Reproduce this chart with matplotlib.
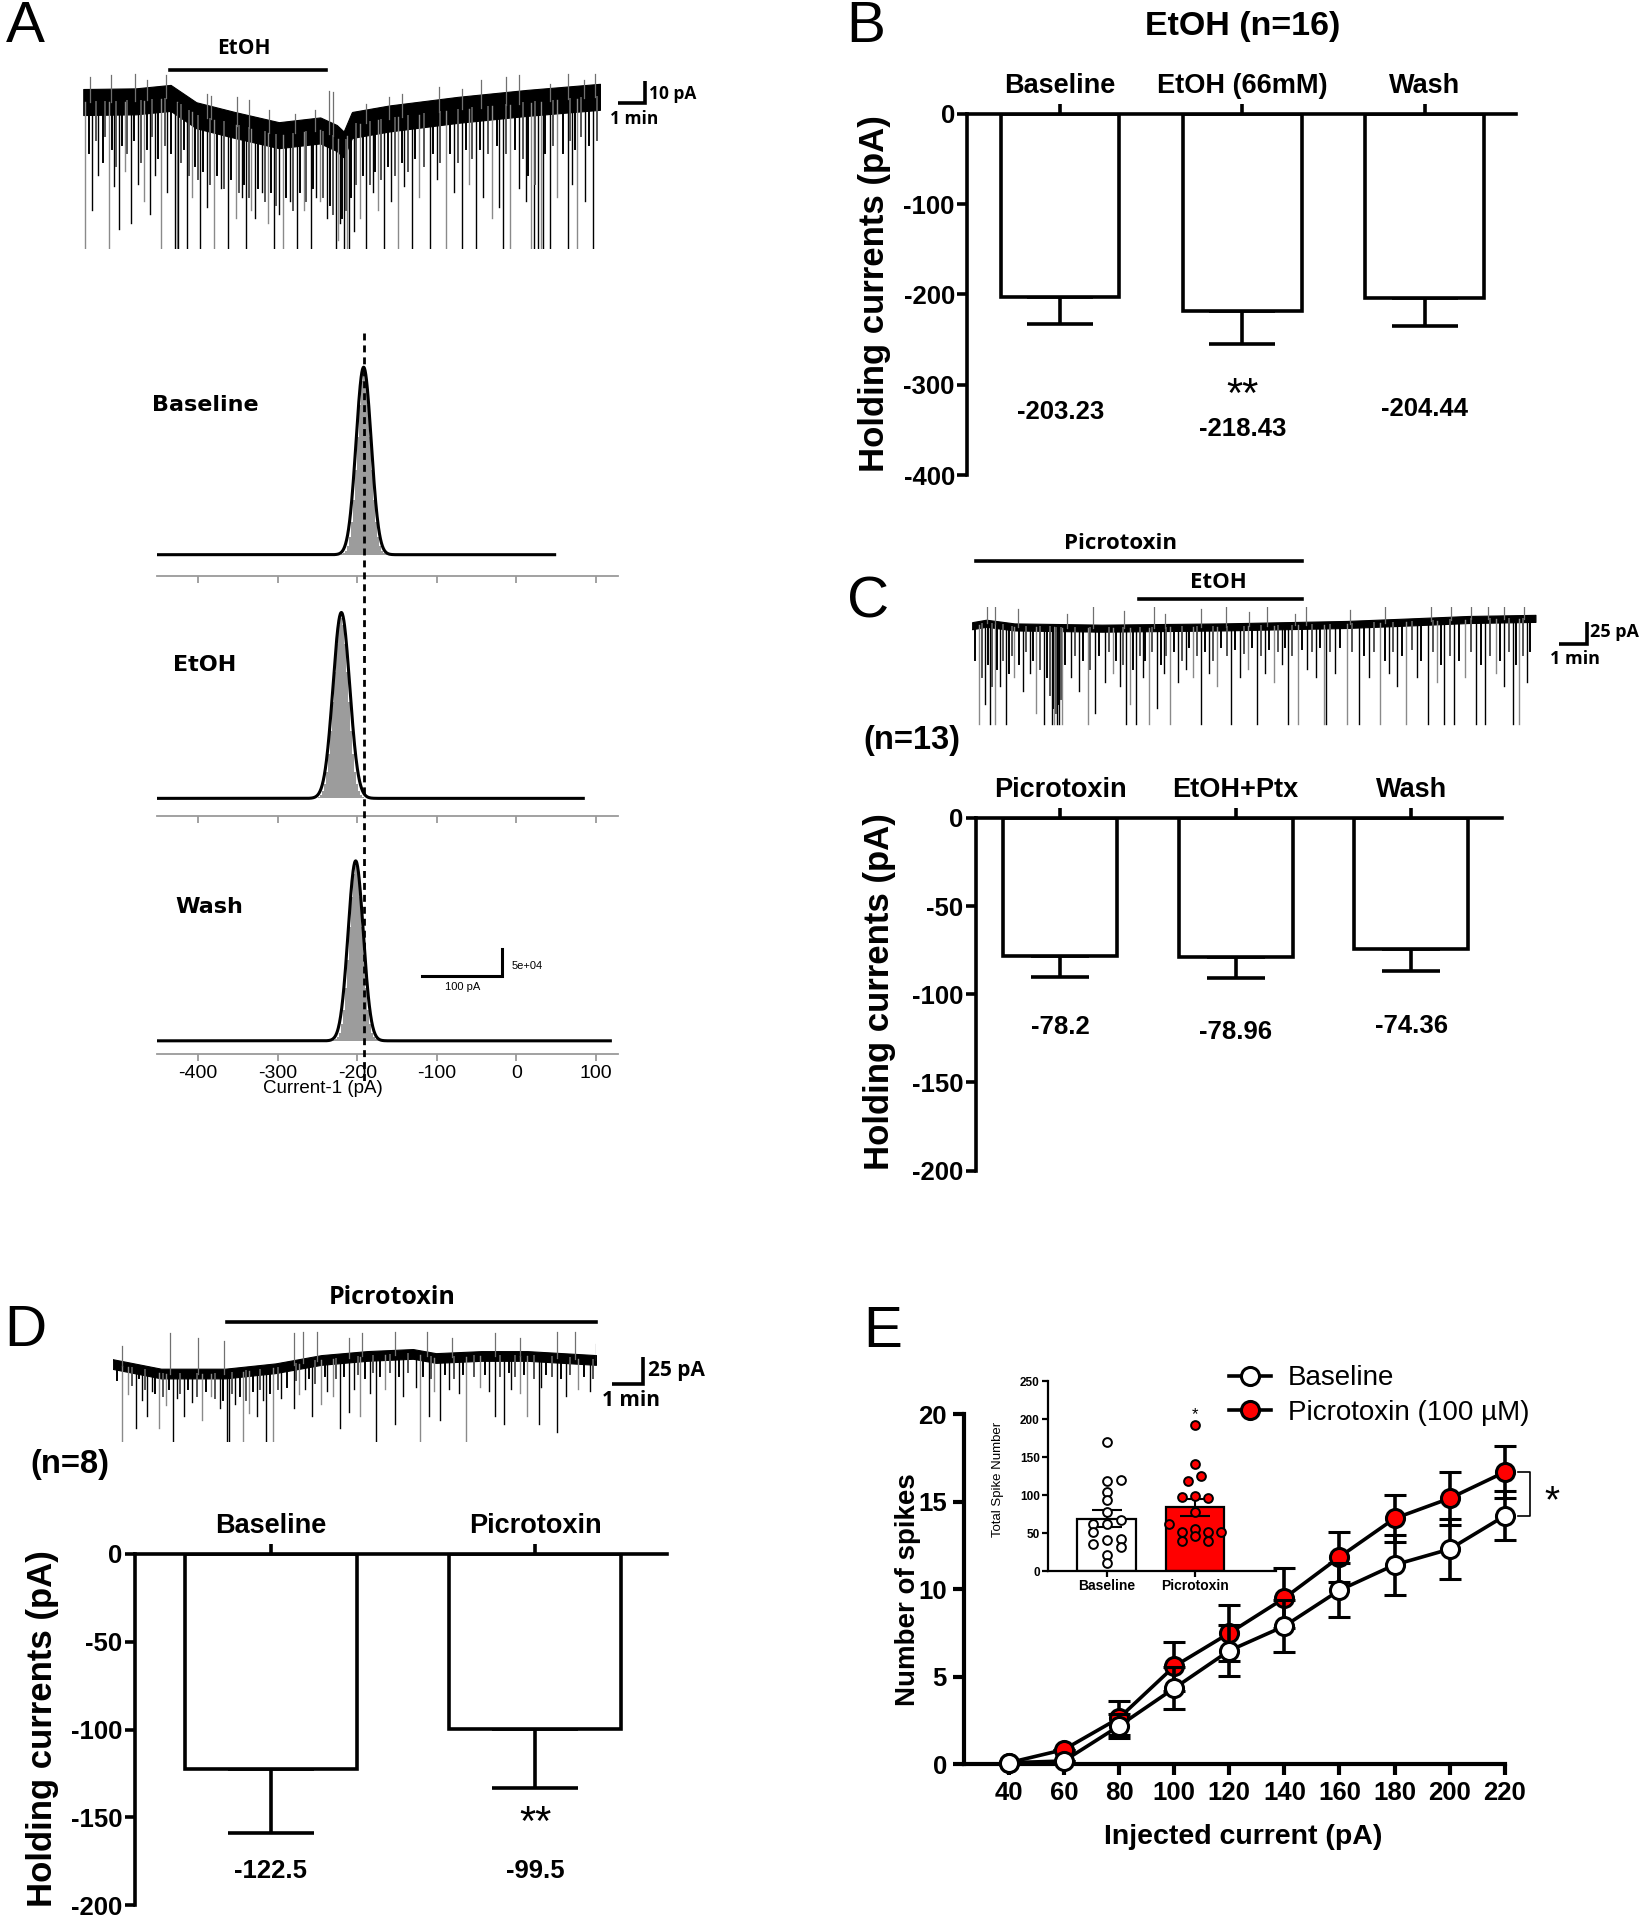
import numpy as np
import matplotlib
matplotlib.use('Agg')
import matplotlib.pyplot as plt
from matplotlib.lines import Line2D
from matplotlib.transforms import blended_transform_factory

plt.rcParams['font.family'] = ['Liberation Sans', 'DejaVu Sans']
plt.rcParams['axes.unicode_minus'] = False

# ---------------- data ----------------
# A: example trace (time in min, current in pA)
a_base_t = [0, 1.9, 3.17, 4.1, 5.5, 7.1, 8.6, 9.2, 9.45, 9.75, 11.1, 13.6, 16.1, 18.75]
a_base_i = [-6.4, -6.1, -4.5, -12.5, -17, -21.7, -19.5, -23, -26, -17, -14, -10, -6.8, -4]
a_spikes = [(0.08, -74), (0.33, -56), (0.55, -40), (0.92, -74), (1.1, -45), (1.28, -65), (1.5, -38),
            (1.75, -62), (2.0, -44), (2.2, -52), (2.42, -58), (2.6, -40), (2.83, -74), (3.05, -48),
            (3.33, -74), (3.4, -74), (3.45, -74), (3.75, -74), (3.95, -50), (4.25, -74), (4.5, -55),
            (4.75, -74), (5.0, -46), (5.25, -74), (5.55, -60), (5.75, -50), (5.92, -74), (6.1, -56),
            (6.25, -60), (6.5, -48), (6.7, -62), (6.92, -74), (7.1, -58), (7.25, -74), (7.5, -52),
            (7.75, -74), (8.0, -56), (8.25, -74), (8.45, -50), (8.58, -52), (8.85, -60), (9.17, -74),
            (9.25, -70), (9.33, -62), (9.45, -74), (9.58, -74), (9.65, -74), (9.83, -66), (10.05, -60),
            (10.25, -74), (10.5, -48), (10.7, -56), (10.92, -74), (11.15, -52), (11.42, -74), (11.65, -45),
            (11.92, -74), (12.2, -50), (12.58, -74), (12.85, -42), (13.17, -74), (13.45, -48), (13.75, -74),
            (14.0, -44), (14.25, -74), (14.5, -50), (14.83, -60), (15.1, -55), (15.25, -74), (15.5, -74),
            (15.8, -46), (16.05, -52), (16.25, -74), (16.35, -74), (16.5, -74), (16.6, -74), (16.67, -74),
            (16.92, -74), (17.2, -50), (17.58, -74), (17.75, -44), (17.92, -74), (18.2, -52), (18.5, -74)]
a_small = [(0.2, -30), (0.45, -24), (0.7, -34), (0.8, -22), (1.05, -28), (1.2, -36), (1.4, -26), (1.6, -30),
           (1.85, -24), (2.1, -34), (2.3, -28), (2.5, -22), (2.7, -32), (2.95, -26), (3.2, -30), (3.55, -34),
           (3.65, -28), (3.85, -40), (4.05, -36), (4.15, -42), (4.35, -38), (4.6, -44), (4.85, -40),
           (5.1, -46), (5.35, -42), (5.65, -48), (5.85, -44), (6.0, -50), (6.35, -46), (6.6, -52), (6.8, -48),
           (7.0, -54), (7.35, -50), (7.6, -56), (7.85, -48), (8.1, -52), (8.35, -46), (8.7, -50), (8.95, -54),
           (9.05, -58), (9.4, -60), (9.52, -56), (9.7, -50), (9.9, -44), (10.15, -40), (10.4, -44),
           (10.6, -38), (10.8, -42), (11.05, -36), (11.3, -40), (11.55, -34), (11.8, -38), (12.05, -32),
           (12.35, -36), (12.7, -30), (12.95, -34), (13.3, -30), (13.6, -34), (13.9, -28), (14.1, -32),
           (14.4, -28), (14.7, -30), (15.0, -26), (15.35, -30), (15.65, -28), (15.95, -32), (16.15, -40),
           (16.4, -44), (16.75, -30), (17.05, -26), (17.4, -30), (17.65, -24), (17.85, -28), (18.05, -22),
           (18.35, -26), (18.65, -24)]
a_up = [(0.25, 5.1), (1.0, 5.9), (1.88, 6.6), (2.33, 3.6), (3.0, 5.9), (4.5, -2.6), (4.62, -3.4),
        (5.58, -4.1), (6.0, -5.6), (6.75, -10.3), (7.67, -11.8), (8.42, -10.3), (8.92, -1.1), (9.08, -1.8),
        (10.25, -7.2), (11.08, -4.1), (11.58, -2.6), (12.92, 0.5), (13.75, -0.3), (14.42, 3.6),
        (15.33, 5.1), (15.83, 5.9), (16.92, 2.0), (17.58, 6.6), (18.17, 3.6), (18.58, 6.6)]

# A: gaussian fits of the all-points histograms
hist_names = ['Baseline', 'EtOH', 'Wash']
hist_center = [-192, -220, -202]
hist_sd = [9.5, 10.5, 9.5]
hist_peak = [3.48e5, 3.45e5, 3.34e5]
hist_xmax = [48, 84, 118]
hist_ref = -192
hist_ticks = [-400, -300, -200, -100, 0, 100]

# B
b_labels = ['Baseline', 'EtOH (66mM)', 'Wash']
b_mean = [-203.23, -218.43, -204.44]
b_sem = [30, 36, 31]

# C trace
c_base_t = [0, 0.5, 1.5, 4.6, 8.9, 13.3, 15.5, 17.6, 20.0]
c_base_i = [-1.4, 1.4, -2.8, -4.2, -2.8, 0, 2.8, 5.6, 6.9]
c_spikes = [(0.24, -113), (0.46, -90), (0.64, -113), (0.82, -113), (1.0, -70), (1.19, -113), (1.5, -60),
            (1.8, -75), (2.05, -55), (2.28, -100), (2.55, -113), (2.83, -113), (2.92, -113), (3.01, -113),
            (3.1, -113), (3.19, -113), (3.5, -60), (3.8, -75), (4.1, -113), (4.37, -100), (4.7, -65),
            (5.0, -55), (5.25, -70), (5.47, -113), (5.6, -90), (5.83, -113), (6.05, -60), (6.29, -113),
            (6.56, -95), (6.8, -55), (7.02, -113), (7.3, -65), (7.6, -50), (7.85, -60), (8.11, -113),
            (8.4, -55), (8.7, -70), (9.2, -113), (9.5, -60), (9.8, -50), (10.11, -113), (10.4, -55),
            (10.7, -65), (11.0, -45), (11.2, -113), (11.57, -113), (11.9, -50), (12.2, -60), (12.48, -113),
            (12.57, -113), (12.9, -55), (13.3, -113), (13.75, -113), (14.1, -60), (14.48, -113), (14.8, -55),
            (15.1, -70), (15.4, -113), (15.8, -60), (16.2, -113), (16.5, -65), (16.76, -113), (17.1, -113),
            (17.5, -60), (17.9, -113), (18.2, -113), (18.6, -55), (18.9, -70), (19.2, -113), (19.4, -113),
            (19.7, -65)]
c_small = [(0.1, -40), (0.35, -60), (0.55, -45), (0.72, -70), (0.9, -50), (1.1, -40), (1.3, -55), (1.4, -35),
           (1.65, -45), (1.9, -30), (2.15, -40), (2.4, -50), (2.65, -60), (2.75, -80), (2.88, -95),
           (2.97, -100), (3.05, -90), (3.15, -85), (3.3, -45), (3.65, -35), (3.95, -40), (4.2, -50),
           (4.5, -35), (4.85, -30), (5.1, -40), (5.35, -45), (5.7, -50), (5.95, -35), (6.15, -40), (6.4, -30),
           (6.7, -45), (6.9, -35), (7.15, -30), (7.45, -40), (7.7, -25), (8.0, -35), (8.25, -30), (8.55, -40),
           (8.85, -25), (9.05, -35), (9.35, -28), (9.65, -32), (9.95, -25), (10.25, -35), (10.55, -28),
           (10.85, -30), (11.1, -25), (11.35, -35), (11.7, -28), (12.05, -30), (12.35, -25), (12.7, -30),
           (13.05, -25), (13.5, -30), (13.9, -35), (14.25, -30), (14.65, -40), (14.95, -30), (15.25, -35),
           (15.6, -28), (15.95, -40), (16.35, -30), (16.65, -45), (16.95, -35), (17.3, -40), (17.7, -30),
           (18.05, -45), (18.4, -35), (18.75, -40), (19.05, -30), (19.3, -45), (19.55, -35), (19.8, -30)]
c_up = [(0.51, 28), (0.82, 20), (1.64, 18), (3.37, 12), (4.28, 28), (5.38, 15), (6.47, 22), (6.83, 12),
        (8.11, 18), (9.0, 28), (9.84, 14), (10.48, 20), (11.48, 12), (11.84, 26), (13.4, 16), (14.66, 22),
        (16.3, 24), (17.0, 26), (17.7, 22), (18.3, 24), (18.9, 20), (19.6, 28)]
c_labels = ['Picrotoxin', 'EtOH+Ptx', 'Wash']
c_mean = [-78.2, -78.96, -74.36]
c_sem = [12, 12, 12.5]

# D trace
d_base_t = [0, 1.58, 3.68, 5.32, 6.82, 8.31, 9.81, 10.56, 12.05, 13.55, 15.79]
d_base_i = [-6.8, -15.6, -15.6, -10.7, -3, 0.7, 2.6, -1.2, 0.7, 0.7, -3]
d_spikes = [(0.31, -78.5), (0.76, -66.3), (1.13, -54.9), (1.5, -66.3), (1.96, -78.5), (2.33, -54.9),
            (2.93, -58.7), (3.72, -78.5), (3.8, -78.5), (4.27, -78.5), (4.72, -54.9), (5.02, -78.5),
            (5.25, -78.5), (5.92, -47.2), (6.52, -54.9), (6.82, -43.4), (7.42, -66.3), (7.72, -51),
            (8.09, -54.9), (8.61, -78.5), (9.21, -62.5), (10.03, -78.5), (10.33, -54.9), (10.71, -58.7),
            (11.53, -78.5), (12.5, -54.9), (12.8, -62.5), (13.55, -54.9), (13.93, -62.5), (14.52, -70.1),
            (0.5, -35), (0.95, -40), (1.3, -32), (1.75, -45), (2.1, -38), (2.6, -42), (3.2, -36), (3.5, -48),
            (4.0, -44), (4.45, -52), (4.9, -40), (5.5, -38), (6.1, -35), (6.3, -30), (7.0, -32), (7.2, -36),
            (7.9, -30), (8.4, -34), (8.9, -30), (9.5, -36), (9.9, -28), (10.5, -32), (11.0, -30), (11.3, -34),
            (12.0, -28), (12.3, -32), (13.0, -30), (13.3, -34), (14.0, -28), (14.8, -36), (15.2, -30),
            (15.6, -32)]
d_small = [(0.15, -22), (0.62, -26), (0.85, -20), (1.05, -30), (1.4, -34), (1.65, -36), (1.85, -30),
           (2.2, -34), (2.45, -30), (2.75, -36), (3.05, -32), (3.35, -38), (3.6, -40), (3.9, -34), (4.15, -36),
           (4.35, -40), (4.6, -32), (4.8, -30), (5.15, -34), (5.4, -30), (5.7, -28), (6.0, -22), (6.42, -20),
           (6.6, -24), (6.95, -18), (7.3, -20), (7.55, -18), (8.0, -16), (8.25, -20), (8.5, -14), (8.75, -18),
           (9.05, -14), (9.35, -18), (9.65, -14), (10.15, -18), (10.4, -20), (10.85, -16), (11.15, -20),
           (11.45, -16), (11.8, -18), (12.15, -16), (12.65, -18), (12.95, -14), (13.15, -18), (13.45, -16),
           (13.75, -20), (14.15, -16), (14.35, -18), (14.65, -20), (14.95, -16), (15.4, -18), (15.7, -20)]
d_up = [(0.31, 10), (1.88, 21.6), (2.78, 17.7), (3.65, 15), (5.92, 21.6), (6.22, 23), (6.67, 23),
        (7.72, 17.7), (8.16, 21.6), (9.21, 23), (10.26, 23), (11.08, 17.7), (12.5, 21.6), (13.32, 17.7),
        (14.52, 23), (15.12, 23), (15.79, 12)]
d_labels = ['Baseline', 'Picrotoxin']
d_mean = [-122.5, -99.5]
d_sem = [36.5, 33.5]

# E
e_current = [40, 60, 80, 100, 120, 140, 160, 180, 200, 220]
e_base = [0.1, 0.2, 2.2, 4.35, 6.5, 7.9, 9.95, 11.4, 12.3, 14.2]
e_base_sem = [0, 0, 0.7, 1.2, 1.45, 1.5, 1.55, 1.7, 1.7, 1.4]
e_ptx = [0.1, 0.85, 2.65, 5.6, 7.5, 9.5, 11.85, 14.05, 15.2, 16.7]
e_ptx_sem = [0, 0, 0.95, 1.4, 1.6, 1.7, 1.45, 1.35, 1.5, 1.5]
inset_base = [170, 118, 120, 104, 94, 78, 62, 62, 67, 51, 41, 42, 35, 31, 21, 10]
inset_ptx = [192, 141, 119, 125, 97, 99, 96, 78, 62, 51, 55, 51, 52, 39, 46, 39]

# ---------------- layout helpers ----------------
W, H = 1346.0, 1568.0
fig = plt.figure(figsize=(16.48, 19.2), dpi=100)


def box(x0, y0, x1, y1):
    return [x0 / W, 1 - y1 / H, (x1 - x0) / W, (y1 - y0) / H]


def ftext(x, y, s, **kw):
    kw.setdefault('ha', 'center')
    kw.setdefault('va', 'center')
    fig.text(x / W, 1 - y / H, s, **kw)


LW = 2.6
BOLD = dict(fontweight='bold')
TRACE_FONT = ['Open Sans', 'Liberation Sans']


def trace(rect, xlim, ylim, bt, bi, half, spikes, small, up):
    ax = fig.add_axes(rect)
    ax.set_xlim(xlim)
    ax.set_ylim(ylim)
    ax.axis('off')
    t = np.linspace(bt[0], bt[-1], 800)
    c = np.interp(t, bt, bi)
    for k, (tt, ii) in enumerate(spikes):
        c0 = np.interp(tt, bt, bi)
        ax.plot([tt, tt], [c0, ii], color='#8a8a8a' if k % 3 == 0 else 'black', lw=1.0)
    for k, (tt, ii) in enumerate(small):
        c0 = np.interp(tt, bt, bi)
        ax.plot([tt, tt], [c0, ii], color='#555555' if k % 2 else 'black', lw=1.4)
    for tt, ii in up:
        c0 = np.interp(tt, bt, bi)
        ax.plot([tt, tt], [c0, ii], color='#707070', lw=0.9)
    ax.fill_between(t, c - half, c + half, color='black', lw=0.8)
    return ax


def scalebar(ax, t1, i0, dt, di):
    ax.plot([t1 - dt, t1, t1], [i0, i0, i0 + di], color='black', lw=LW, clip_on=False,
            solid_joinstyle='miter', solid_capstyle='butt')


# ---------------- panel letters ----------------
for s, x, y in [('A', 21, 22), ('B', 707, 22), ('C', 709, 492), ('D', 21, 1087), ('E', 721, 1088)]:
    ftext(x, y, s, fontsize=42)

# ---------------- A trace ----------------
ax = trace(box(68, 58, 490, 203), (0, 18.75), (-74, 7.9), a_base_t, a_base_i, 6, a_spikes, a_small, a_up)
ax.plot([3.16, 8.8], [8.5, 8.5], color='black', lw=LW, clip_on=False)
scalebar(ax, 20.4, -6.8, 1, 10)
ftext(199, 40, 'EtOH', fontsize=15, family=TRACE_FONT, **BOLD)
ftext(530, 77, '10 pA', fontsize=12.5, ha='left', family=TRACE_FONT, **BOLD)
ftext(518, 97, '1 min', fontsize=12.5, family=TRACE_FONT, **BOLD)

# ---------------- A histograms ----------------
sec_top = [270, 478, 676]
sec_axis = [470, 666, 861]
sec_base = [453, 652, 850]
kpx = 5e4 / 22
hist_axes = []
for k in range(3):
    hx = fig.add_axes(box(128, sec_top[k], 505, sec_axis[k]))
    hx.set_xlim(-452, 128)
    hx.set_ylim(-(sec_axis[k] - sec_base[k]) * kpx, (sec_base[k] - sec_top[k]) * kpx)
    x = np.linspace(-452, hist_xmax[k], 1200)
    xf = np.arange(hist_center[k] - 40, hist_center[k] + 40, 2.5)
    yf = hist_peak[k] * 0.97 * np.exp(-0.5 * ((xf - hist_center[k]) / (hist_sd[k] * 0.85)) ** 2)
    hx.bar(xf, yf, width=2.5, color='#9c9c9c', lw=0)
    y = hist_peak[k] * np.exp(-0.5 * ((x - hist_center[k]) / hist_sd[k]) ** 2)
    hx.plot(x, y, color='black', lw=2.2)
    for sp in ['top', 'right', 'left']:
        hx.spines[sp].set_visible(False)
    hx.spines['bottom'].set_color('#9a9a9a')
    hx.spines['bottom'].set_linewidth(1.3)
    hx.set_yticks([])
    hx.set_xticks(hist_ticks)
    hx.tick_params(axis='x', color='#9a9a9a', width=1.3, length=5, labelsize=14, pad=3)
    if k < 2:
        hx.set_xticklabels([])
    hist_axes.append(hx)
    hx.patch.set_alpha(0)

for name, x, y in zip(hist_names, [124, 141, 143], [331, 543, 741]):
    ftext(x, y, name, fontsize=16, ha='left', family='DejaVu Sans', **BOLD)
hx = hist_axes[2]
hx.plot([-118.5, -18.5, -18.5], [120.5e3, 120.5e3, 170.5e3], color='black', lw=2.2,
        solid_joinstyle='miter')
ftext(418, 789, '5e+04', fontsize=8, ha='left')
ftext(378, 806, '100 pA', fontsize=8)
ftext(264, 889, 'Current-1 (pA)', fontsize=13.5)
trans = blended_transform_factory(hx.transData, fig.transFigure)
fig.add_artist(Line2D([hist_ref, hist_ref], [1 - 272 / H, 1 - 885 / H], transform=trans,
                      color='black', lw=2.0, ls=(0, (2.5, 1.8))))


# ---------------- bar panels ----------------
def bar_panel(rect, labels, means, sems, ylim, yticks, xlim, capsize):
    ax = fig.add_axes(rect)
    x = np.arange(len(means))
    ax.errorbar(x, means, yerr=[sems, np.zeros(len(sems))], fmt='none', ecolor='black',
                elinewidth=LW, capsize=capsize, capthick=LW, zorder=1)
    ax.bar(x, means, width=0.65, color='white', edgecolor='black', linewidth=LW, zorder=2)
    ax.set_xlim(xlim)
    ax.set_ylim(ylim)
    ax.set_yticks(yticks)
    ax.set_xticks(x)
    ax.set_xticklabels(labels)
    ax.xaxis.tick_top()
    ax.spines['bottom'].set_visible(False)
    ax.spines['right'].set_visible(False)
    for sp in ['top', 'left']:
        ax.spines[sp].set_linewidth(LW)
    ax.tick_params(axis='y', width=LW, length=7, labelsize=18.5, pad=2)
    ax.tick_params(axis='x', width=LW, length=7, labelsize=19.5, pad=4)
    for lab in ax.get_xticklabels() + ax.get_yticklabels():
        lab.set_fontweight('bold')
    return ax


YLAB = 25
STAR = 30

# B
ftext(1015, 22, 'EtOH (n=16)', fontsize=24.5, **BOLD)
axb = bar_panel(box(790, 93, 1238, 388), b_labels, b_mean, b_sem, (-400, 0),
                [0, -100, -200, -300, -400], (-0.51, 2.5), 24)
for i, (m, yy) in enumerate(zip(b_mean, [-329.7, -348.6, -327])):
    axb.text(i, yy, f'{m:.2f}', ha='center', va='center', fontsize=18.5, **BOLD)
axb.text(1, -312, '**', ha='center', va='center', fontsize=STAR)
ftext(714, 240, 'Holding currents (pA)', fontsize=YLAB, rotation=90, **BOLD)

# C trace
axc = trace(box(794, 496, 1255, 595), (0, 20.04), (-118, 19.4), c_base_t, c_base_i, 4,
            c_spikes, c_small, c_up)
axc.plot([0.13, 11.7], [72.2, 72.2], color='black', lw=LW, clip_on=False)
axc.plot([5.91, 11.7], [29.2, 29.2], color='black', lw=LW, clip_on=False)
scalebar(axc, 21.83, -22.2, 1, 25)
ftext(915, 444, 'Picrotoxin', fontsize=16, family=TRACE_FONT, **BOLD)
ftext(995, 476, 'EtOH', fontsize=16, family=TRACE_FONT, **BOLD)
ftext(1299, 516, '25 pA', fontsize=13, ha='left', family=TRACE_FONT, **BOLD)
ftext(1286, 538, '1 min', fontsize=13, family=TRACE_FONT, **BOLD)
ftext(705, 605, '(n=13)', fontsize=23.5, ha='left', **BOLD)

# C bars
axc2 = bar_panel(box(797, 668, 1227, 956), c_labels, c_mean, c_sem, (-200, 0),
                 [0, -50, -100, -150, -200], (-0.48, 2.52), 21)
for i, (m, yy) in enumerate(zip(c_mean, [-118.75, -121.5, -118])):
    axc2.text(i, yy, f'{m:g}', ha='center', va='center', fontsize=18.5, **BOLD)
ftext(718, 810, 'Holding currents (pA)', fontsize=YLAB, rotation=90, **BOLD)

# D trace
axd = trace(box(92, 1085, 487, 1178), (0, 15.8), (-79.5, 26.1), d_base_t, d_base_i, 4.5,
            d_spikes, d_small, d_up)
axd.plot([3.72, 15.8], [31.8, 31.8], color='black', lw=LW, clip_on=False)
scalebar(axd, 17.32, -25, 1, 25)
ftext(320, 1060, 'Picrotoxin', fontsize=18, family=TRACE_FONT, **BOLD)
ftext(529, 1119, '25 pA', fontsize=15, ha='left', family=TRACE_FONT, **BOLD)
ftext(515, 1144, '1 min', fontsize=15, family=TRACE_FONT, **BOLD)
ftext(25, 1196, '(n=8)', fontsize=23.5, ha='left', **BOLD)

# D bars
axd2 = bar_panel(box(110, 1269, 545, 1556), d_labels, d_mean, d_sem, (-200, 0),
                 [0, -50, -100, -150, -200], (-0.514, 1.5), 31)
for i, m in enumerate(d_mean):
    axd2.text(i, -180.5, f'{m:g}', ha='center', va='center', fontsize=18.5, **BOLD)
axd2.text(1, -154, '**', ha='center', va='center', fontsize=STAR)
ftext(35, 1412, 'Holding currents (pA)', fontsize=YLAB, rotation=90, **BOLD)

# ---------------- E ----------------
RED = '#ff0000'
axe = fig.add_axes(box(787, 1155, 1229, 1441))
series = [(e_ptx, e_ptx_sem, RED, 3), (e_base, e_base_sem, 'white', 4)]
for vals, sem, col, z in series:
    cont = axe.errorbar(e_current, vals, yerr=sem, color='black', lw=LW, marker='o', ms=13,
                        mfc=col, mec='black', mew=2.2, capsize=8, capthick=LW, elinewidth=LW, zorder=z)
    for art in cont.get_children():
        art.set_clip_on(False)
axe.set_xlim(23.6, 220)
axe.set_ylim(0, 20)
axe.set_xticks(e_current)
axe.set_yticks([0, 5, 10, 15, 20])
axe.spines['top'].set_visible(False)
axe.spines['right'].set_visible(False)
for sp in ['left', 'bottom']:
    axe.spines[sp].set_linewidth(3)
axe.tick_params(width=3, length=8, labelsize=18.5, pad=4)
for lab in axe.get_xticklabels() + axe.get_yticklabels():
    lab.set_fontweight('bold')
ftext(1015, 1500, 'Injected current (pA)', fontsize=20.5, **BOLD)
ftext(742, 1298, 'Number of spikes', fontsize=20, rotation=90, **BOLD)
axe.plot([224.9, 229.3, 229.3, 224.9], [e_ptx[-1], e_ptx[-1], e_base[-1], e_base[-1]],
         color='black', lw=1.2, clip_on=False)
axe.text(237.3, 15.0, '*', ha='center', va='center', fontsize=28)

# inset
ins = fig.add_axes(box(856, 1128, 1042, 1283))
ins.patch.set_visible(False)
base_off = [0, 0, 0.16, 0, 0, 0, -0.16, 0, 0.16, -0.16, 0, 0.16, -0.16, 0.16, 0, 0]
ptx_off = [0, 0, -0.075, 0.068, -0.15, 0, 0.143, 0, -0.293, -0.15, 0, 0.143, 0.29, -0.15, 0, 0.143]
groups = [inset_base, inset_ptx]
means = [np.mean(g) for g in groups]
sems = [np.std(g, ddof=1) / np.sqrt(len(g)) for g in groups]
ins.bar([0, 1], means, width=0.667, color=['white', RED], edgecolor='black', lw=1.6, zorder=1)
ins.errorbar([0, 1], means, yerr=sems, fmt='none', ecolor='black', elinewidth=1.5,
             capsize=11, capthick=1.5, zorder=3)
ins.scatter(np.array(base_off), inset_base, s=40, facecolor='white', edgecolor='black', lw=1.4, zorder=4)
ins.scatter(1 + np.array(ptx_off), inset_ptx, s=40, facecolor=RED, edgecolor='black', lw=1.4, zorder=4)
ins.set_xlim(-0.667, 1.917)
ins.set_ylim(0, 250)
ins.set_yticks([0, 50, 100, 150, 200, 250])
ins.set_xticks([0, 1])
ins.set_xticklabels(['Baseline', 'Picrotoxin'])
ins.spines['top'].set_visible(False)
ins.spines['right'].set_visible(False)
for sp in ['left', 'bottom']:
    ins.spines[sp].set_linewidth(1.6)
ins.tick_params(width=1.6, length=4, pad=2)
ins.tick_params(axis='y', labelsize=8.5)
ins.tick_params(axis='x', labelsize=10)
for lab in ins.get_xticklabels() + ins.get_yticklabels():
    lab.set_fontweight('bold')
ins.text(1, 206, '*', ha='center', va='center', fontsize=12)
ftext(815, 1208, 'Total Spike Number', fontsize=9.5, rotation=90)

# legend drawn last so it sits above the inset
handles = [Line2D([], [], color='black', lw=LW, marker='o', ms=13, mfc='white', mec='black', mew=2.2),
           Line2D([], [], color='black', lw=LW, marker='o', ms=13, mfc=RED, mec='black', mew=2.2)]
fig.legend(handles, ['Baseline', 'Picrotoxin (100 µM)'], loc='upper left',
           bbox_to_anchor=(1004 / W, 1 - 1115 / H), bbox_transform=fig.transFigure,
           frameon=False, fontsize=20, handlelength=1.5, handletextpad=0.6, labelspacing=0.3,
           borderpad=0, borderaxespad=0)

fig.savefig('out.png', dpi=100)
